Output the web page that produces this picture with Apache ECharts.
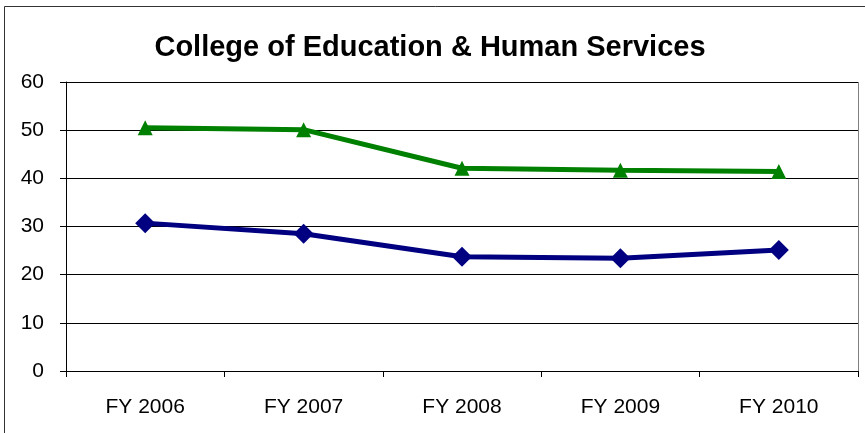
<!DOCTYPE html>
<html><head><meta charset="utf-8">
<script src="https://cdn.jsdelivr.net/npm/echarts@6/dist/echarts.min.js"></script>
<style>html,body{margin:0;padding:0;background:#fff}#c{width:865px;height:433px}</style>
</head><body><div id="c"></div>
<script>
const categories = ['FY 2006','FY 2007','FY 2008','FY 2009','FY 2010'];
const greenValues = [50.5, 50.1, 42.1, 41.7, 41.4];
const blueValues = [30.7, 28.5, 23.7, 23.4, 25.1];
const yTicks = [0, 10, 20, 30, 40, 50, 60];

const chart = echarts.init(document.getElementById('c'));
chart.setOption({
  animation: false,
  backgroundColor: '#fff',
  title: {
    text: 'College of Education & Human Services',
    left: 425, top: 28, textAlign: 'center',
    textStyle: {fontFamily: 'Liberation Sans, Arial', fontWeight: 'bold', fontSize: 29, color: '#000'}
  },
  graphic: [{
    type: 'rect', shape: {x: 4.5, y: 6.5, width: 900, height: 500},
    style: {fill: 'none', stroke: '#333', lineWidth: 1}, silent: true
  }, {
    type: 'line', shape: {x1: 858.5, y1: 82, x2: 858.5, y2: 371},
    style: {stroke: '#808080', lineWidth: 1}, silent: true
  }],
  grid: {left: 66, right: 7, top: 82, bottom: 62, containLabel: false},
  xAxis: {
    type: 'category', data: categories, boundaryGap: true,
    axisLine: {lineStyle: {color: '#000', width: 1}},
    axisTick: {show: true, length: 6, inside: false, lineStyle: {color: '#000'}},
    axisLabel: {fontFamily: 'Liberation Sans, Arial', fontSize: 21, color: '#000', margin: 26}
  },
  yAxis: {
    type: 'value', min: yTicks[0], max: yTicks[yTicks.length-1], interval: 10,
    axisLine: {show: true, lineStyle: {color: '#000', width: 1}},
    axisTick: {show: true, length: 6, lineStyle: {color: '#000'}},
    axisLabel: {fontFamily: 'Liberation Sans, Arial', fontSize: 21, color: '#000', margin: 22},
    splitLine: {lineStyle: {color: '#000', width: 1}}
  },
  series: [{
    type: 'line', data: greenValues,
    lineStyle: {color: '#008000', width: 5},
    itemStyle: {color: '#008000'},
    symbol: 'triangle', symbolSize: 15, showAllSymbol: true
  }, {
    type: 'line', data: blueValues,
    lineStyle: {color: '#000080', width: 5},
    itemStyle: {color: '#000080'},
    symbol: 'diamond', symbolSize: [20, 20], showAllSymbol: true
  }]
});
</script></body></html>
